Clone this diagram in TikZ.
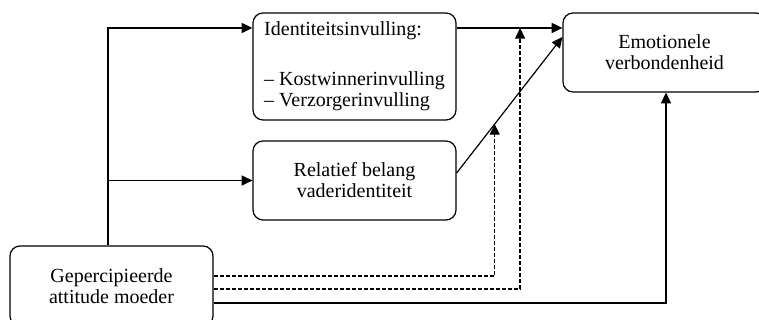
\documentclass[tikz,border=0pt]{standalone}
\usepackage{fontspec}
\setmainfont{Liberation Serif}
\usetikzlibrary{arrows.meta,calc}
\tikzset{
	blok/.style={draw, rounded corners=7.5pt, line width=0.9pt, minimum width=152.25pt, align=center, inner sep=0pt, font=\fontsize{15}{15.8}\selectfont},
	pijl/.style={line width=0.9pt, -{Triangle[length=8pt,width=7.5pt]}},
	stippel/.style={pijl, dash pattern=on 3pt off 1.5pt},
}

\begin{document}
\begin{tikzpicture}[x=0.75pt,y=0.75pt]
		%%%%% START %%%%%
		\useasboundingbox (0,0) rectangle (759,320);
		
		\node[blok, minimum height=60pt] (moeder) at (111.5,34) {Gepercipieerde\\attitude moeder};
		\node[blok, minimum height=80.25pt, align=left] (ident) at (354.5,253.5) {Identiteitsinvulling:\\[21.5pt]– Kostwinnerinvulling\\– Verzorgerinvulling};
		\node[blok, minimum height=59.25pt] (belang) at (354.5,139.5) {Relatief belang\\vaderidentiteit};
		\node[blok, minimum height=59.25pt] (emo) at (664.5,267.5) {Emotionele\\verbondenheid};
		
		\coordinate (stam) at ([xshift=-2.6pt]moeder.north);
		\draw[pijl] (stam) |- ([yshift=28.9pt]ident.west);
		\draw[pijl] (stam |- belang.west) -- (belang.west);
		
		\coordinate (iUit) at ([yshift=28.9pt]ident.east);
		\coordinate (bUit) at ([yshift=5.6pt]belang.east);
		\coordinate (eIn) at ([yshift=11.6pt]emo.west);
		\draw[pijl] (iUit) -- (emo.west |- iUit);
		\draw[pijl] (bUit) -- (eIn);
		
		\coordinate (mod1) at ($(bUit)!0.36!(eIn)$);
		\coordinate (mod2) at ($(iUit)!0.6!(emo.west |- iUit)$);
		\draw[stippel] ([yshift=7.5pt]moeder.east) -| (mod1);
		\draw[stippel] ([yshift=-2.25pt]moeder.east) -| (mod2);
		\draw[pijl] ([yshift=-12.75pt]moeder.east) -| ([xshift=1.1pt]emo.south);
		%%%%% END %%%%%
\end{tikzpicture}
\end{document}
